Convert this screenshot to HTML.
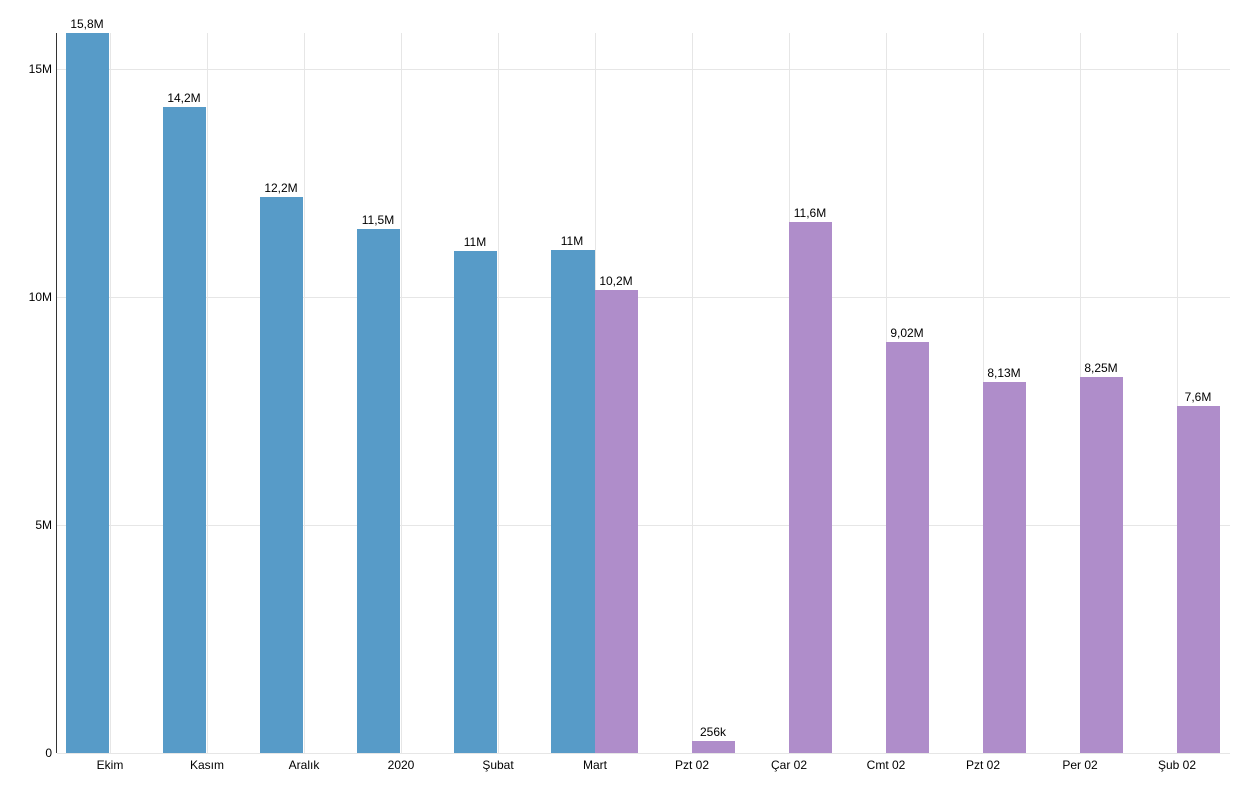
<!DOCTYPE html><html><head><meta charset="utf-8"><style>body{margin:0;background:#fff}svg{display:block;font-family:"Liberation Sans",sans-serif}</style></head><body>
<svg width="1236" height="786" viewBox="0 0 1236 786">
<g stroke="#e6e6e6" stroke-width="1">
<line x1="57" y1="69.5" x2="1230" y2="69.5"/><line x1="57" y1="297.5" x2="1230" y2="297.5"/><line x1="57" y1="525.5" x2="1230" y2="525.5"/>
<line x1="110.5" y1="33" x2="110.5" y2="753"/><line x1="207.5" y1="33" x2="207.5" y2="753"/><line x1="304.5" y1="33" x2="304.5" y2="753"/><line x1="401.5" y1="33" x2="401.5" y2="753"/><line x1="498.5" y1="33" x2="498.5" y2="753"/><line x1="595.5" y1="33" x2="595.5" y2="753"/><line x1="692.5" y1="33" x2="692.5" y2="753"/><line x1="789.5" y1="33" x2="789.5" y2="753"/><line x1="886.5" y1="33" x2="886.5" y2="753"/><line x1="983.5" y1="33" x2="983.5" y2="753"/><line x1="1080.5" y1="33" x2="1080.5" y2="753"/><line x1="1177.5" y1="33" x2="1177.5" y2="753"/>
<line x1="57" y1="753.5" x2="1230" y2="753.5"/>
</g>
<line x1="56.5" y1="33" x2="56.5" y2="753" stroke="#333"/>
<g fill="#579bc8">
<rect x="66" y="33" width="43" height="720"/><rect x="163" y="107" width="43" height="646"/><rect x="260" y="197" width="43" height="556"/><rect x="357" y="229" width="43" height="524"/><rect x="454" y="251" width="43" height="502"/><rect x="551" y="250" width="44" height="503"/>
</g>
<g fill="#af8dca">
<rect x="595" y="290" width="43" height="463"/><rect x="692" y="741" width="43" height="12"/><rect x="789" y="222" width="43" height="531"/><rect x="886" y="342" width="43" height="411"/><rect x="983" y="382" width="43" height="371"/><rect x="1080" y="377" width="43" height="376"/><rect x="1177" y="406" width="43" height="347"/>
</g>
<g font-size="12" fill="#000" text-anchor="middle">
<text x="87" y="28">15,8M</text><text x="184" y="102">14,2M</text><text x="281" y="192">12,2M</text><text x="378" y="224">11,5M</text><text x="475" y="246">11M</text><text x="572" y="245">11M</text>
<text x="616" y="285">10,2M</text><text x="713" y="736">256k</text><text x="810" y="217">11,6M</text><text x="907" y="337">9,02M</text><text x="1004" y="377">8,13M</text><text x="1101" y="372">8,25M</text><text x="1198" y="401">7,6M</text>
<text x="110" y="769">Ekim</text><text x="207" y="769">Kasım</text><text x="304" y="769">Aralık</text><text x="401" y="769">2020</text><text x="498" y="769">Şubat</text><text x="595" y="769">Mart</text><text x="692" y="769">Pzt 02</text><text x="789" y="769">Çar 02</text><text x="886" y="769">Cmt 02</text><text x="983" y="769">Pzt 02</text><text x="1080" y="769">Per 02</text><text x="1177" y="769">Şub 02</text>
</g>
<g font-size="12" text-anchor="end"><text x="52" y="73">15M</text><text x="52" y="301">10M</text><text x="52" y="529">5M</text><text x="52" y="757">0</text></g>
</svg></body></html>
